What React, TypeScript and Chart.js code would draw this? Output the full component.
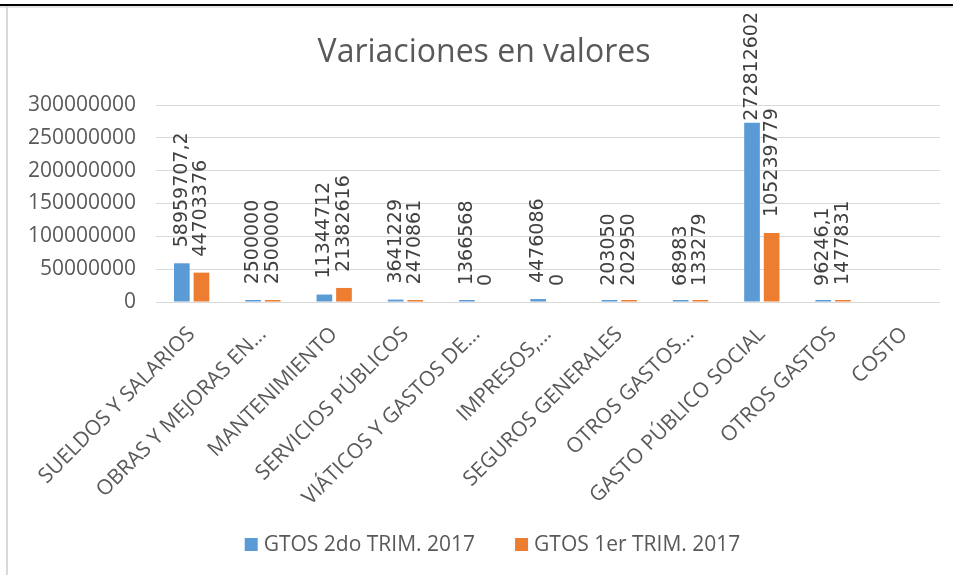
import React, { useEffect, useRef } from "react";
import { Chart, registerables } from "chart.js";

Chart.register(...registerables);

const categories = [
  "SUELDOS Y SALARIOS",
  "OBRAS Y MEJORAS EN...",
  "MANTENIMIENTO",
  "SERVICIOS PÚBLICOS",
  "VIÁTICOS Y GASTOS DE...",
  "IMPRESOS,...",
  "SEGUROS GENERALES",
  "OTROS GASTOS...",
  "GASTO PÚBLICO SOCIAL",
  "OTROS GASTOS",
  "COSTO",
];

const seriesNames = ["GTOS 2do TRIM. 2017", "GTOS 1er TRIM. 2017"];

const gtos2doTrim = [
  58959707.2, 2500000, 11344712, 3641229, 1366568, 4476086, 203050, 68983,
  272812602, 96246.1, null,
];
const gtos1erTrim = [
  44703376, 2500000, 21382616, 2470861, 0, 0, 202950, 133279, 105239779,
  1477831, null,
];

const yTicksMax = 300000000;
const yTicksStep = 50000000;
const titleText = "Variaciones en valores";

const BLUE = "#5b9bd5";
const ORANGE = "#ed7d31";
const TEXT = "#595959";
const FONT = "'Open Sans', sans-serif";

const fmt = (v: number) => String(v).replace(".", ",");

const dataLabelPlugin = {
  id: "rotatedDataLabels",
  afterDatasetsDraw(chart: any) {
    const ctx = chart.ctx;
    const yScale = chart.scales.y;
    ctx.save();
    ctx.font = "19px 'DejaVu Sans'";
    ctx.fillStyle = "#404040";
    ctx.textAlign = "left";
    ctx.textBaseline = "middle";
    chart.data.datasets.forEach((ds: any, di: number) => {
      const meta = chart.getDatasetMeta(di);
      meta.data.forEach((bar: any, i: number) => {
        const v = ds.data[i];
        if (v === null || v === undefined) return;
        const label = fmt(v);
        const w = ctx.measureText(label).width;
        let start = yScale.getPixelForValue(v) - 16;
        if (start - w < 12) start = 12 + w;
        ctx.save();
        ctx.translate(bar.x, start);
        ctx.rotate(-Math.PI / 2);
        ctx.fillText(label, 0, 0);
        ctx.restore();
      });
    });
    ctx.restore();
  },
};

const titleLegendPlugin = {
  id: "titleLegend",
  afterDraw(chart: any) {
    const ctx = chart.ctx;
    ctx.save();
    // title
    ctx.font = `32px ${FONT}`;
    ctx.fillStyle = TEXT;
    ctx.textAlign = "center";
    ctx.textBaseline = "alphabetic";
    ctx.fillText(titleText, 484, 62);
    // legend
    ctx.font = `21px ${FONT}`;
    ctx.textAlign = "left";
    ctx.textBaseline = "middle";
    const box = 13;
    const gap = 6;
    const itemGap = 40;
    const items = chart.data.datasets.map((ds: any, i: number) => ({
      text: ds.label,
      color: i === 0 ? BLUE : ORANGE,
      w: ctx.measureText(ds.label).width,
    }));
    const total =
      items.reduce((s: number, it: any) => s + box + gap + it.w, 0) +
      itemGap * (items.length - 1);
    let x = 492.5 - total / 2;
    const cy = 545;
    items.forEach((it: any) => {
      ctx.fillStyle = it.color;
      ctx.fillRect(x, cy - box / 2 - 0.5, box, box);
      ctx.fillStyle = TEXT;
      ctx.fillText(it.text, x + box + gap, cy);
      x += box + gap + it.w + itemGap;
    });
    ctx.restore();
  },
};

export default function App() {
  const canvasRef = useRef<HTMLCanvasElement | null>(null);

  useEffect(() => {
    if (!canvasRef.current) return;
    const chart = new Chart(canvasRef.current, {
      type: "bar",
      data: {
        labels: categories,
        datasets: [
          {
            label: seriesNames[0],
            data: gtos2doTrim,
            backgroundColor: (c: any) => (c.raw === 0 ? "rgba(0,0,0,0)" : BLUE),
            minBarLength: 2,
            categoryPercentage: 0.55,
            barPercentage: 0.8,
          },
          {
            label: seriesNames[1],
            data: gtos1erTrim,
            backgroundColor: (c: any) => (c.raw === 0 ? "rgba(0,0,0,0)" : ORANGE),
            minBarLength: 2,
            categoryPercentage: 0.55,
            barPercentage: 0.8,
          },
        ],
      },
      options: {
        responsive: false,
        animation: false,
        devicePixelRatio: 1,
        layout: { padding: { left: 0, right: 13, top: 105, bottom: 73 } },
        plugins: {
          title: { display: false },
          legend: { display: false },
          tooltip: { enabled: false },
        },
        scales: {
          x: {
            grid: { display: false },
            border: { display: false },
            afterFit: (scale: any) => {
              scale.height = 200;
            },
            ticks: {
              color: TEXT,
              font: { family: FONT, size: 21 },
              maxRotation: 45,
              minRotation: 45,
              autoSkip: false,
              padding: 12,
            },
          },
          y: {
            min: 0,
            max: yTicksMax,
            grid: { color: "#d9d9d9", drawTicks: false },
            border: { display: false },
            afterFit: (scale: any) => {
              scale.width = 156;
            },
            ticks: {
              stepSize: yTicksStep,
              color: TEXT,
              font: { family: FONT, size: 21 },
              padding: 20,
              callback: (v: any) => String(v),
            },
          },
        },
      },
      plugins: [dataLabelPlugin, titleLegendPlugin],
    });
    return () => chart.destroy();
  }, []);

  return (
    <div
      style={{
        position: "absolute",
        left: 0,
        top: 0,
        width: 953,
        height: 575,
        background: "#fff",
        overflow: "hidden",
      }}
    >
      <canvas
        ref={canvasRef}
        width={953}
        height={575}
        style={{ position: "absolute", left: 0, top: 0 }}
      />
      <div style={{ position: "absolute", left: 0, top: 4, width: 953, height: 2, background: "#000" }} />
      <div style={{ position: "absolute", left: 0, top: 6, width: 953, height: 2, background: "#e6e6e6" }} />
      <div style={{ position: "absolute", left: 6, top: 6, width: 2, height: 569, background: "#d9d9d9" }} />
    </div>
  );
}
